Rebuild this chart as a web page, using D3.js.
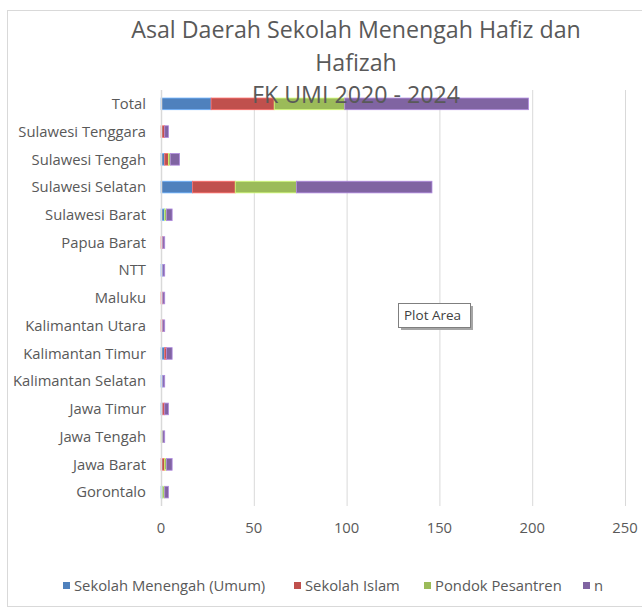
<!DOCTYPE html>
<html>
<head>
<meta charset="utf-8">
<script src="https://cdn.jsdelivr.net/npm/d3@7"></script>
<style>
  body { margin: 0; background: #fff; }
  svg { font-family: "Open Sans", sans-serif; }
  .title { fill: #595959; font-size: 23.2px; text-anchor: middle; }
  .cat text, .xaxis text { fill: #595959; font-size: 14.8px; }
  .legend text { fill: #595959; font-size: 14.8px; }
</style>
</head>
<body>
<script>
// categories, top to bottom as shown
const categories = ['Total', 'Sulawesi Tenggara', 'Sulawesi Tengah', 'Sulawesi Selatan', 'Sulawesi Barat',
  'Papua Barat', 'NTT', 'Maluku', 'Kalimantan Utara', 'Kalimantan Timur', 'Kalimantan Selatan',
  'Jawa Timur', 'Jawa Tengah', 'Jawa Barat', 'Gorontalo'];

const seriesNames = ['Sekolah Menengah (Umum)', 'Sekolah Islam', 'Pondok Pesantren', 'n'];

const umum      = [27, 0, 2, 17, 2, 0, 1, 0, 0, 2, 1, 1, 0, 0, 1];
const islam     = [34, 2, 2, 23, 0, 1, 0, 1, 1, 1, 0, 1, 0, 2, 0];
const pesantren = [38, 0, 1, 33, 1, 0, 0, 0, 0, 0, 0, 0, 1, 1, 1];
const nTotal    = [99, 2, 5, 73, 3, 1, 1, 1, 1, 3, 1, 2, 1, 3, 2];

const xTicks = [0, 50, 100, 150, 200, 250];
const titleLines = ['Asal Daerah Sekolah Menengah Hafiz dan', 'Hafizah', 'FK UMI 2020 - 2024'];

const colors = ['#4f81bd', '#c0504d', '#9bbb59', '#8064a2'];

const width = 642, height = 610;

const rows = categories.map((c, i) => ({
  cat: c,
  [seriesNames[0]]: umum[i],
  [seriesNames[1]]: islam[i],
  [seriesNames[2]]: pesantren[i],
  [seriesNames[3]]: nTotal[i]
}));

const svg = d3.select('body').append('svg')
  .attr('width', width)
  .attr('height', height);

// chart border
svg.append('rect')
  .attr('x', 7.5).attr('y', 10.5)
  .attr('width', 660).attr('height', 596)
  .attr('fill', '#fff')
  .attr('stroke', '#d9d9d9');

const x = d3.scaleLinear().domain([0, 250]).range([161, 625]);
const y = d3.scaleBand().domain(categories).range([90, 506]).paddingInner(0.58).paddingOuter(0.29);

// gridlines
svg.append('g').selectAll('line')
  .data(xTicks.slice(1))
  .join('line')
  .attr('x1', d => x(d) + 0.5).attr('x2', d => x(d) + 0.5)
  .attr('y1', 90).attr('y2', 506)
  .attr('stroke', '#d9d9d9');

// stacked bars
const stack = d3.stack().keys(seriesNames);
svg.append('g').selectAll('g')
  .data(stack(rows))
  .join('g')
  .attr('fill', (d, i) => colors[i])
  .attr('stroke', (d, i) => d3.color(colors[i]).brighter(0.9))
  .attr('stroke-width', 0.8)
  .selectAll('rect')
  .data(d => d.filter(s => s[1] > s[0]))
  .join('rect')
  .attr('x', d => x(d[0]))
  .attr('width', d => x(d[1]) - x(d[0]))
  .attr('y', d => y(d.data.cat))
  .attr('height', y.bandwidth());

// value axis line (vertical at 0)
svg.append('line')
  .attr('x1', x(0) + 0.5).attr('x2', x(0) + 0.5)
  .attr('y1', 90).attr('y2', 506)
  .attr('stroke', '#d9d9d9').attr('stroke-width', 1.5);

// category labels
svg.append('g').attr('class', 'cat')
  .selectAll('text')
  .data(categories)
  .join('text')
  .attr('x', 146)
  .attr('y', d => y(d) + y.bandwidth() / 2)
  .attr('dy', '0.35em')
  .attr('text-anchor', 'end')
  .text(d => d);

// x tick labels
svg.append('g').attr('class', 'xaxis')
  .selectAll('text')
  .data(xTicks)
  .join('text')
  .attr('x', d => x(d))
  .attr('y', 533)
  .attr('text-anchor', 'middle')
  .text(d => d);

// title
svg.append('g').selectAll('text')
  .data(titleLines)
  .join('text')
  .attr('class', 'title')
  .attr('x', 356)
  .attr('y', (d, i) => 38 + i * 32.5)
  .text(d => d);

// legend
const legendX = [63, 294, 424, 583];
const legend = svg.append('g').attr('class', 'legend')
  .selectAll('g')
  .data(seriesNames)
  .join('g')
  .attr('transform', (d, i) => `translate(${legendX[i]}, 586)`);
legend.append('rect')
  .attr('x', 0).attr('y', -4)
  .attr('width', 7).attr('height', 7)
  .attr('fill', (d, i) => colors[i]);
legend.append('text')
  .attr('x', 11).attr('y', 0)
  .attr('dy', '0.35em')
  .text(d => d);

// "Plot Area" tooltip
const tip = svg.append('g').attr('transform', 'translate(398, 303)');
tip.append('rect').attr('x', 3).attr('y', 3).attr('width', 72).attr('height', 24).attr('fill', '#a6a6a6');
tip.append('rect').attr('x', 0.5).attr('y', 0.5).attr('width', 72).attr('height', 24)
  .attr('fill', '#fff').attr('stroke', '#7f7f7f');
tip.append('text').attr('x', 6).attr('y', 17).attr('fill', '#404040')
  .style('font-size', '13.5px').text('Plot Area');
</script>
</body>
</html>
